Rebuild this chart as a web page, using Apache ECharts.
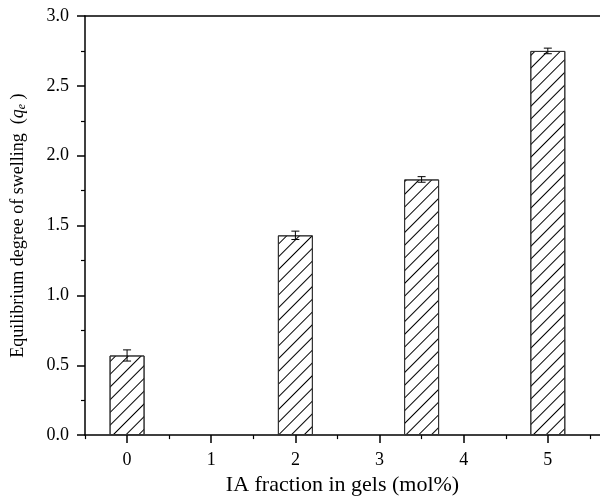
<!DOCTYPE html>
<html>
<head>
<meta charset="utf-8">
<script src="https://cdn.jsdelivr.net/npm/echarts@6/dist/echarts.min.js"></script>
<style>
  html, body { margin: 0; padding: 0; background: #fff; }
  #chart { width: 600px; height: 501px; }
</style>
</head>
<body>
<div id="chart"></div>
<script>
// IA content of the gels (mol%) and the measured equilibrium swelling
const iaFraction = [0, 2, 3.5, 5];
const swellingDegree = [0.57, 1.43, 1.83, 2.75];
const swellingError = [0.04, 0.03, 0.02, 0.02];

// axis ticks
const xMajorTicks = [0, 1, 2, 3, 4, 5];
const xMinorTicks = [-0.5, 0.5, 1.5, 2.5, 3.5, 4.5, 5.5];
const yTicks = [0, 0.5, 1.0, 1.5, 2.0, 2.5, 3.0];

const FONT = '"Liberation Serif", "DejaVu Serif", serif';
const X_MIN = -0.5, X_MAX = 5.62;

const chart = echarts.init(document.getElementById('chart'), null, { renderer: 'canvas' });

const barData = iaFraction.map((x, i) => [x, swellingDegree[i]]);
const errData = iaFraction.map((x, i) => [x, swellingDegree[i], swellingError[i]]);

chart.setOption({
  backgroundColor: '#fff',
  animation: false,
  grid: { left: 85, right: 0, top: 16, bottom: 64 },
  xAxis: [
    {
      type: 'value', position: 'bottom', min: X_MIN, max: X_MAX,
      interval: 0.5,
      name: 'IA fraction in gels (mol%)',
      nameLocation: 'middle', nameGap: 32,
      nameTextStyle: { fontFamily: FONT, fontSize: 22, color: '#000' },
      axisLine: { show: true, onZero: false, lineStyle: { color: '#000', width: 1.5 } },
      axisTick: { show: true, inside: false, length: 8, customValues: xMajorTicks,
                  lineStyle: { color: '#000', width: 1.5 } },
      axisLabel: { show: true, customValues: xMajorTicks, margin: 16,
                   fontFamily: FONT, fontSize: 18, color: '#000',
                   formatter: v => String(v) },
      splitLine: { show: false }
    },
    {
      // half-step ticks along the bottom axis
      type: 'value', position: 'bottom', min: X_MIN, max: X_MAX,
      interval: 0.5,
      axisLine: { show: false, onZero: false },
      axisTick: { show: true, inside: false, length: 4, customValues: xMinorTicks,
                  lineStyle: { color: '#000', width: 1.2 } },
      axisLabel: { show: false },
      splitLine: { show: false }
    },
    {
      // top frame line
      type: 'value', position: 'top', min: X_MIN, max: X_MAX,
      interval: 0.5,
      axisLine: { show: true, onZero: false, lineStyle: { color: '#000', width: 1.5 } },
      axisTick: { show: false },
      axisLabel: { show: false },
      splitLine: { show: false }
    }
  ],
  yAxis: {
    type: 'value', min: 0, max: 3, interval: 0.5,
    name: 'Equilibrium degree of swelling  ({q|q}{e|e} )',
    nameLocation: 'middle', nameGap: 57, nameRotate: 90,
    nameTextStyle: {
      fontFamily: FONT, fontSize: 18, color: '#000',
      rich: {
        q: { fontFamily: FONT, fontSize: 18, fontStyle: 'italic', color: '#000' },
        e: { fontFamily: FONT, fontSize: 12, fontStyle: 'italic', color: '#000',
             verticalAlign: 'bottom', padding: [8, 0, 0, 0] }
      }
    },
    axisLine: { show: true, onZero: false, lineStyle: { color: '#000', width: 1.5 } },
    axisTick: { show: true, inside: false, length: 8, customValues: yTicks,
                lineStyle: { color: '#000', width: 1.5 } },
    minorTick: { show: true, splitNumber: 2, length: 4, lineStyle: { color: '#000', width: 1.2 } },
    axisLabel: { margin: 16, fontFamily: FONT, fontSize: 18, color: '#000',
                 formatter: v => v.toFixed(1) },
    splitLine: { show: false }
  },
  series: [
    {
      type: 'bar',
      xAxisIndex: 0,
      data: barData,
      barWidth: 35,
      itemStyle: {
        color: '#fff',
        borderColor: '#333',
        borderWidth: 1,
        decal: {
          symbol: 'rect', symbolSize: 1,
          dashArrayX: [1, 0], dashArrayY: [1, 8],
          rotation: -Math.PI / 4,
          color: '#000', backgroundColor: 'rgba(0,0,0,0)'
        }
      },
      emphasis: { disabled: true }
    },
    {
      type: 'custom',
      xAxisIndex: 0,
      data: errData,
      encode: { x: 0, y: 1 },
      z: 5,
      renderItem: function (params, api) {
        const x = api.value(0), y = api.value(1), e = api.value(2);
        const top = api.coord([x, y + e]);
        const bot = api.coord([x, y - e]);
        const cap = 4;
        const style = { stroke: '#000', lineWidth: 1 };
        return {
          type: 'group',
          children: [
            { type: 'line', shape: { x1: top[0], y1: top[1], x2: bot[0], y2: bot[1] }, style },
            { type: 'line', shape: { x1: top[0] - cap, y1: top[1], x2: top[0] + cap, y2: top[1] }, style },
            { type: 'line', shape: { x1: bot[0] - cap, y1: bot[1], x2: bot[0] + cap, y2: bot[1] }, style }
          ]
        };
      }
    }
  ]
});
</script>
</body>
</html>
